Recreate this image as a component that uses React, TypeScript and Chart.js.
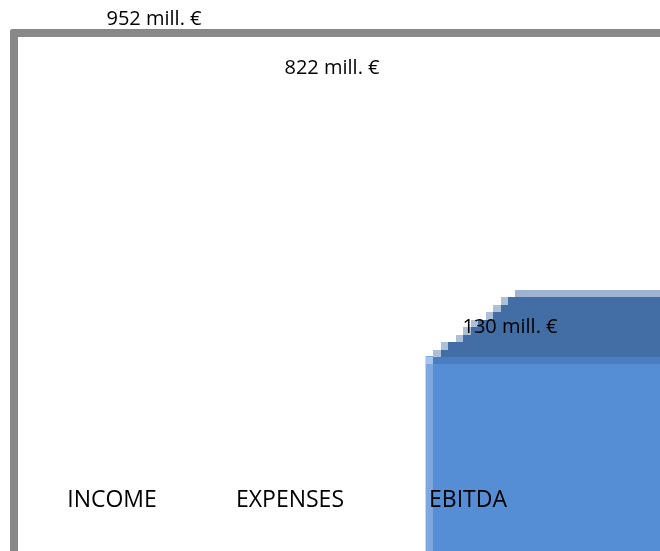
import { useEffect, useRef } from "react";
import { Chart, registerables } from "chart.js";

Chart.register(...registerables);

// ---- data ----
const categories = ["INCOME", "EXPENSES", "EBITDA"];
const values = [952, 822, 130];
const unitLabel = "mill. €";
const visibleBars = [false, false, true];

// ---- style ----
const FONT = "'Open Sans', 'DejaVu Sans', sans-serif";
const FRONT = "#558ed5";
const EDGE_LEFT = "#7ea7e0";
const EDGE_CORNER = "#a9c4eb";
const EDGE_TOP = "#4a7ec3";
const TOP_FACE = "#426ea5";
const TOP_AA = "#aebfd8";
const TOP_BACK = "#9db3d0";
const BLOCK = 7.45;
const TOP_ROWS = 9;
const STEP_SLOPE = 1.36;
const LABEL_SHIFT_X = 42;
const LABEL_SHIFT_Y = 29;
const BAR_BASE = -600;

const bar3d = {
  id: "bar3d",
  afterDatasetsDraw(chart: any) {
    const ctx = chart.ctx as CanvasRenderingContext2D;
    const meta = chart.getDatasetMeta(0);
    const W = chart.width;
    meta.data.forEach((bar: any, i: number) => {
      if (!visibleBars[i]) return;
      const { x, y, width, base } = bar.getProps(["x", "y", "width", "base"], true);
      const left = Math.round(x - width / 2);
      const top = Math.round(y);
      const right = Math.max(Math.round(x + width / 2), W);
      const gx = (c: number) => Math.round(left + c * BLOCK);
      const gy = (r: number) => Math.round(top - r * BLOCK);
      const b = gx(1) - left;
      ctx.save();
      // front face edges
      ctx.fillStyle = EDGE_TOP;
      ctx.fillRect(left + b, top, right - left - b, gy(-1) - top);
      ctx.fillStyle = EDGE_CORNER;
      ctx.fillRect(left, top, b, gy(-1) - top);
      ctx.fillStyle = EDGE_LEFT;
      ctx.fillRect(left, gy(-1), b, Math.max(base, chart.height) - gy(-1));
      // stepped top face
      for (let r = 1; r <= TOP_ROWS; r++) {
        const col = Math.floor(r * STEP_SLOPE + 0.1);
        const y0 = gy(r);
        const h = gy(r - 1) - y0;
        const x0 = gx(col);
        const x1 = gx(col + 1);
        if (r < TOP_ROWS) {
          ctx.fillStyle = TOP_AA;
          ctx.fillRect(x0, y0, x1 - x0, h);
          ctx.fillStyle = TOP_FACE;
          ctx.fillRect(x1, y0, right - x1, h);
        } else {
          ctx.fillStyle = TOP_BACK;
          ctx.fillRect(x0, y0, right - x0, h);
        }
      }
      ctx.restore();
    });
  },
};

const valueLabels = {
  id: "valueLabels",
  afterDatasetsDraw(chart: any) {
    const ctx = chart.ctx as CanvasRenderingContext2D;
    const xs = chart.scales.x;
    const ys = chart.scales.y;
    ctx.save();
    ctx.fillStyle = "#000";
    ctx.font = `20px ${FONT}`;
    ctx.textAlign = "center";
    ctx.textBaseline = "middle";
    values.forEach((v, i) => {
      const px = xs.getPixelForValue(i) + LABEL_SHIFT_X;
      const py = ys.getPixelForValue(v) - LABEL_SHIFT_Y;
      ctx.fillText(`${v} ${unitLabel}`, px, py);
    });
    ctx.restore();
  },
};

export default function App() {
  const ref = useRef<HTMLCanvasElement>(null);

  useEffect(() => {
    if (!ref.current) return;
    const chart = new Chart(ref.current, {
      type: "bar",
      data: {
        labels: categories,
        datasets: [
          {
            label: "Value",
            data: values,
            xAxisID: "xb",
            yAxisID: "y",
            backgroundColor: values.map((_, i) => (visibleBars[i] ? FRONT : "rgba(0,0,0,0)")),
            borderWidth: 0,
            barThickness: 262,
            base: BAR_BASE,
            clip: false,
          } as any,
        ],
      },
      options: {
        animation: false,
        responsive: true,
        maintainAspectRatio: false,
        layout: { padding: { left: 23, right: 103, top: 30, bottom: 31 } },
        plugins: { legend: { display: false }, tooltip: { enabled: false } },
        scales: {
          x: {
            type: "category",
            position: "bottom",
            offset: true,
            grid: { display: false, drawTicks: false },
            border: { display: false },
            ticks: {
              color: "#000",
              font: { family: FONT, size: 23 },
              padding: 6,
              z: 1,
              maxRotation: 0,
              autoSkip: false,
            },
          },
          xb: { type: "category", display: false, offset: false },
          y: { type: "linear", display: false, min: -200, max: 1000 },
        } as any,
      },
      plugins: [bar3d, valueLabels],
    });
    return () => chart.destroy();
  }, []);

  return (
    <div
      style={{
        position: "fixed",
        left: 0,
        top: 0,
        width: 660,
        height: 551,
        background: "#fff",
        overflow: "hidden",
      }}
    >
      <canvas ref={ref} style={{ display: "block" }} />
      <div
        style={{
          position: "absolute",
          left: 10,
          top: 29,
          right: -20,
          bottom: -20,
          borderLeft: "8px solid #888",
          borderTop: "8px solid #888",
          borderTopLeftRadius: 3,
          pointerEvents: "none",
        }}
      />
    </div>
  );
}
